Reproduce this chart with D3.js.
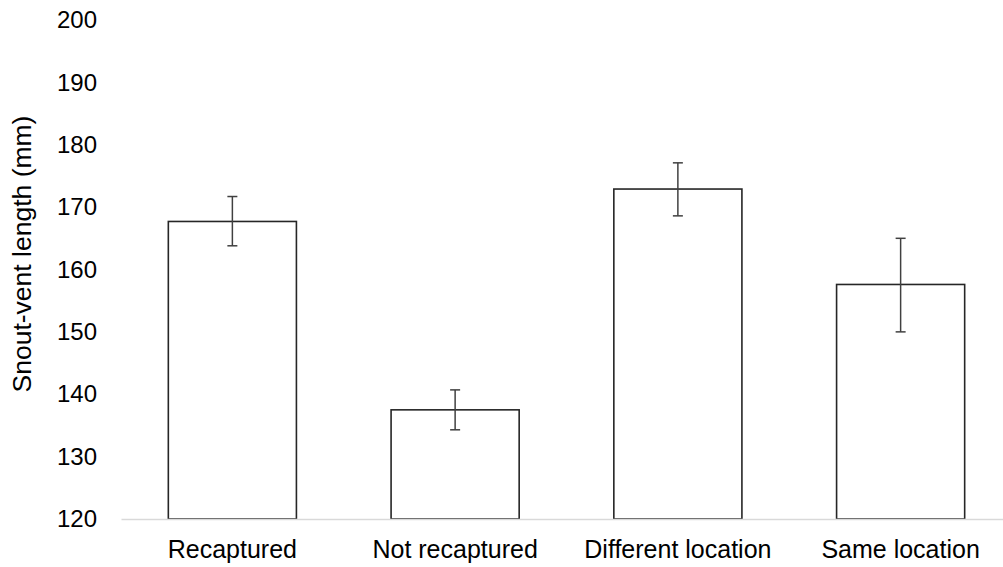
<!DOCTYPE html>
<html>
<head>
<meta charset="utf-8">
<script src="https://cdn.jsdelivr.net/npm/d3@7"></script>
<style>
  html, body { margin: 0; padding: 0; background: #fff; }
  svg { display: block; }
  text { font-family: "Liberation Sans", Arial, Helvetica, sans-serif; fill: #000; }
</style>
</head>
<body>
<svg id="chart" width="1003" height="567"></svg>
<script>
// Mean snout-vent length per group, with error bar bounds (mm)
const categories = ["Recaptured", "Not recaptured", "Different location", "Same location"];
const means = [167.7, 137.5, 172.9, 157.6];
const errLow = [163.8, 134.3, 168.6, 150.0];
const errHigh = [171.7, 140.7, 177.1, 165.0];
const yTicks = [120, 130, 140, 150, 160, 170, 180, 190, 200];
const yTitle = "Snout-vent length (mm)";

const svg = d3.select("#chart");

const x = d3.scaleBand()
  .domain(categories)
  .range([121, 1012])
  .paddingInner(0.425)
  .paddingOuter(0.2125);

const y = d3.scaleLinear()
  .domain([120, 200])
  .range([519, 20]);

// Y axis: labels only, no line or tick marks
const yAxis = d3.axisLeft(y)
  .tickValues(yTicks)
  .tickSize(0)
  .tickPadding(0);
const gy = svg.append("g")
  .attr("transform", "translate(97,0)")
  .call(yAxis);
gy.select(".domain").remove();
gy.selectAll("text")
  .attr("font-size", 24)
  .attr("font-family", null)
  .attr("fill", "#000");

// Axis title
svg.append("text")
  .attr("transform", `translate(31,${254}) rotate(-90)`)
  .attr("text-anchor", "middle")
  .attr("font-size", 26.5)
  .text(yTitle);

// Bars
svg.append("g")
  .selectAll("rect")
  .data(categories)
  .join("rect")
  .attr("x", d => x(d))
  .attr("y", (d, i) => y(means[i]))
  .attr("width", x.bandwidth())
  .attr("height", (d, i) => y(120) - y(means[i]))
  .attr("fill", "#fff")
  .attr("stroke", "#262626")
  .attr("stroke-width", 1.6);

// Baseline (category axis)
const xAxis = d3.axisBottom(x).tickSize(0).tickPadding(21);
const gx = svg.append("g")
  .attr("transform", `translate(0,${y(120)})`)
  .call(xAxis);
gx.select(".domain")
  .attr("stroke", "#d9d9d9")
  .attr("stroke-width", 1.6);
gx.selectAll("text")
  .attr("font-size", 25)
  .attr("font-family", null)
  .attr("fill", "#000");

// Error bars
const eb = svg.append("g")
  .attr("stroke", "#404040")
  .attr("stroke-width", 1.5);
categories.forEach((c, i) => {
  const cx = x(c) + x.bandwidth() / 2;
  eb.append("line")
    .attr("x1", cx).attr("x2", cx)
    .attr("y1", y(errLow[i])).attr("y2", y(errHigh[i]));
  [errLow[i], errHigh[i]].forEach(v => {
    eb.append("line")
      .attr("x1", cx - 5).attr("x2", cx + 5)
      .attr("y1", y(v)).attr("y2", y(v));
  });
});
</script>
</body>
</html>
